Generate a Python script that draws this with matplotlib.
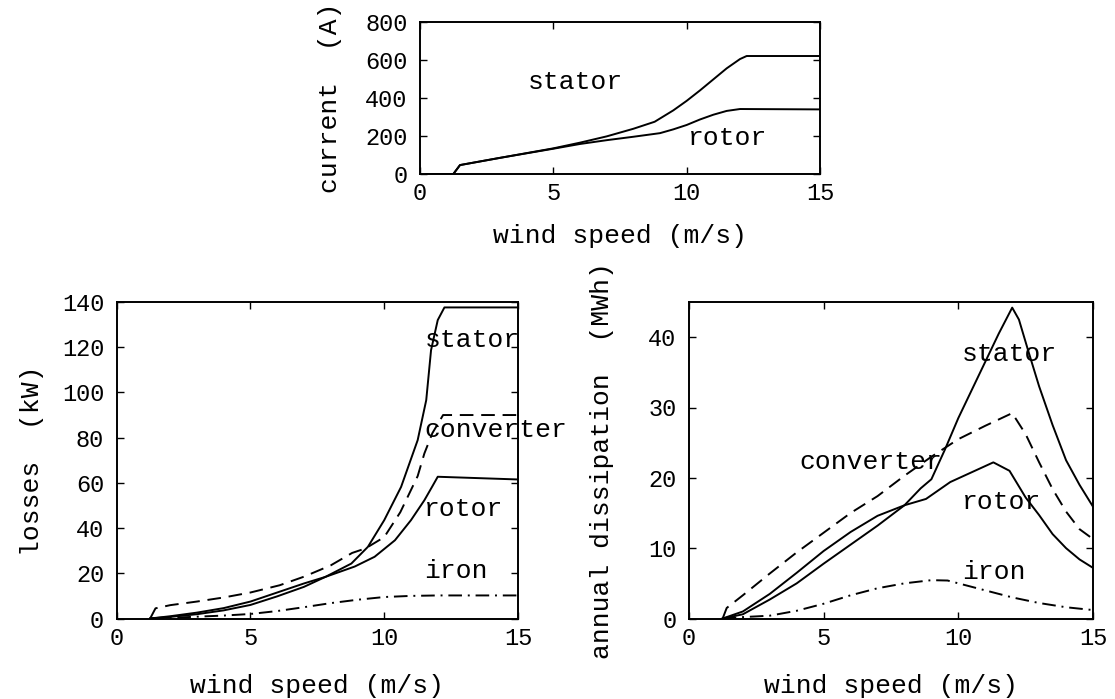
import matplotlib
matplotlib.use("Agg")
import matplotlib.pyplot as plt

plt.rcParams['font.family'] = ['Liberation Mono', 'DejaVu Sans Mono']

# ---------------- data ----------------
# top: current (A) vs wind speed
cur_stator_x = [0.25, 1.25, 1.5, 3, 5, 6, 7, 8, 8.8, 9.5, 10, 10.5, 11, 11.5, 12.0, 12.25, 15]
cur_stator_y = [0, 0, 47, 85, 135, 165, 198, 238, 275, 335, 385, 440, 498, 556, 605, 621, 621]
cur_rotor_x = [0.25, 1.25, 1.5, 3, 5, 6, 7, 8, 9, 9.5, 10, 10.5, 11, 11.5, 12.0, 15]
cur_rotor_y = [0, 0, 47, 85, 133, 158, 178, 196, 215, 235, 258, 287, 312, 332, 342, 340]

# bottom-left: losses (kW)
loss_stator_x = [1.25, 2, 3, 4, 5, 6, 7, 7.8, 8.77, 9.39, 10.0, 10.63, 11.25, 11.57, 11.75, 12.0, 12.25, 15]
loss_stator_y = [0, 0.7, 1.9, 3.6, 6.0, 9.8, 14.0, 18.4, 24.3, 31.7, 43.5, 58.2, 78.9, 96.6, 118.7, 132, 137.6, 137.6]
loss_rotor_x = [1.25, 2, 3, 4, 5, 6, 7, 7.8, 8.9, 9.64, 10.4, 11.0, 11.5, 11.8, 12.0, 15]
loss_rotor_y = [0, 1.0, 2.6, 4.6, 7.5, 11.5, 15.5, 18.4, 23.0, 27.3, 34.6, 43.5, 52.3, 58.5, 62.7, 61.5]
loss_conv_x = [1.25, 1.45, 2, 3, 4, 5, 6.09, 7, 8, 8.8, 9.3, 10, 10.6, 11.25, 11.5, 11.8, 12.2, 15]
loss_conv_y = [0, 4.5, 5.9, 7.5, 9.3, 11.5, 14.7, 18.5, 23.5, 29, 31, 36, 47, 63, 73, 82, 90, 90]
loss_iron_x = [1.25, 2, 3, 4, 5, 6, 7, 8, 9, 10, 11, 12, 15]
loss_iron_y = [0, 0.3, 0.8, 1.3, 2.0, 3.3, 5.0, 6.8, 8.3, 9.5, 10.0, 10.2, 10.2]

# bottom-right: annual dissipation (MWh)
dis_stator_x = [1.25, 2, 3, 4, 5, 6, 7, 8, 8.6, 9, 9.5, 10, 10.5, 11, 11.5, 12.0, 12.25, 12.6, 13, 13.5, 14, 14.5, 15]
dis_stator_y = [0, 0.6, 2.7, 5.0, 7.8, 10.5, 13.2, 16.1, 18.5, 19.8, 24, 28.5, 32.5, 36.5, 40.5, 44.2, 42.5, 38, 33, 27.5, 22.5, 19, 15.9]
dis_rotor_x = [1.25, 2, 3, 4, 5, 6, 7, 8, 8.8, 9.7, 10.5, 11.3, 11.9, 12.5, 13, 13.5, 14, 14.5, 15]
dis_rotor_y = [0, 1.0, 3.5, 6.5, 9.6, 12.3, 14.6, 16.1, 17.0, 19.4, 20.8, 22.2, 21.0, 17.2, 14.7, 12.0, 10.0, 8.4, 7.2]
dis_conv_x = [1.25, 1.4, 2, 3, 4, 5, 6, 7, 8, 9, 10, 11, 12, 12.5, 13, 13.5, 14, 14.5, 15]
dis_conv_y = [0, 1.5, 3.3, 6.4, 9.4, 12.2, 15.0, 17.4, 20.3, 23.0, 25.5, 27.4, 29.2, 26.2, 22.2, 18.4, 15.2, 12.7, 11.3]
dis_iron_x = [1.25, 2, 3, 4, 5, 6, 7, 8, 9, 9.6, 10, 11, 12, 13, 14, 15]
dis_iron_y = [0, 0.2, 0.4, 1.1, 2.1, 3.3, 4.3, 5.0, 5.45, 5.4, 5.0, 4.0, 3.0, 2.2, 1.6, 1.2]

x_ticks = [0, 5, 10, 15]
top_yticks = [0, 200, 400, 600, 800]
bl_yticks = [0, 20, 40, 60, 80, 100, 120, 140]
br_yticks = [0, 10, 20, 30, 40]

# ---------------- styles ----------------
LW = 1.4
DASH = (0, (7, 4))
DASHDOT = (0, (7, 3, 1, 3))
TICK_FS = 17
LAB_FS = 19

W, H = 1115, 699
fig = plt.figure(figsize=(W / 100, H / 100), dpi=100)


def px_axes(left, top, right, bottom):
    return fig.add_axes([left / W, 1 - bottom / H, (right - left) / W, (bottom - top) / H])


def style(ax):
    ax.tick_params(direction='in', top=True, right=True, length=5, width=1,
                   labelsize=TICK_FS)
    ax.tick_params(axis='x', pad=6)
    ax.tick_params(axis='y', pad=9)
    for s in ax.spines.values():
        s.set_linewidth(1.4)
    ax.set_xlim(0, 15)
    ax.set_xticks(x_ticks)


ax_top = px_axes(420, 22, 820, 174)
ax_bl = px_axes(116.7, 302, 518, 618.5)
ax_br = px_axes(689, 302, 1093, 618.5)

for ax in (ax_top, ax_bl, ax_br):
    style(ax)

# top
ax_top.plot(cur_stator_x, cur_stator_y, color='black', lw=LW)
ax_top.plot(cur_rotor_x, cur_rotor_y, color='black', lw=LW)
ax_top.set_ylim(0, 800)
ax_top.set_yticks(top_yticks)
ax_top.text(4.05, 486, 'stator', fontsize=LAB_FS, va='center', ha='left')
ax_top.text(10.05, 192, 'rotor', fontsize=LAB_FS, va='center', ha='left')
ax_top.set_xlabel('wind speed (m/s)', fontsize=LAB_FS)
ax_top.set_ylabel('current  (A)', fontsize=LAB_FS)
ax_top.xaxis.set_label_coords(0.5, (174 - 236) / 152)
ax_top.xaxis.label.set_va('center')
ax_top.yaxis.set_label_coords((330 - 420) / 400, 0.5)
ax_top.yaxis.label.set_va('center')

# bottom-left
ax_bl.plot(loss_stator_x, loss_stator_y, color='black', lw=LW)
ax_bl.plot(loss_rotor_x, loss_rotor_y, color='black', lw=LW)
ax_bl.plot(loss_conv_x, loss_conv_y, color='black', lw=LW, linestyle=DASH)
ax_bl.plot(loss_iron_x, loss_iron_y, color='black', lw=LW, linestyle=DASHDOT)
ax_bl.set_ylim(0, 140)
ax_bl.set_yticks(bl_yticks)
ax_bl.text(11.5, 123, 'stator', fontsize=LAB_FS, va='center', ha='left')
ax_bl.text(11.5, 83.5, 'converter', fontsize=LAB_FS, va='center', ha='left')
ax_bl.text(11.5, 48.5, 'rotor', fontsize=LAB_FS, va='center', ha='left')
ax_bl.text(11.5, 21, 'iron', fontsize=LAB_FS, va='center', ha='left')
ax_bl.set_xlabel('wind speed (m/s)', fontsize=LAB_FS)
ax_bl.set_ylabel('losses  (kW)', fontsize=LAB_FS)
ax_bl.xaxis.set_label_coords(0.5, (618.5 - 686) / 316.5)
ax_bl.xaxis.label.set_va('center')
ax_bl.yaxis.set_label_coords((32 - 116.7) / 401.3, 0.5)
ax_bl.yaxis.label.set_va('center')

# bottom-right
ax_br.plot(dis_stator_x, dis_stator_y, color='black', lw=LW)
ax_br.plot(dis_rotor_x, dis_rotor_y, color='black', lw=LW)
ax_br.plot(dis_conv_x, dis_conv_y, color='black', lw=LW, linestyle=DASH)
ax_br.plot(dis_iron_x, dis_iron_y, color='black', lw=LW, linestyle=DASHDOT)
ax_br.set_ylim(0, 45)
ax_br.set_yticks(br_yticks)
ax_br.text(10.13, 37.6, 'stator', fontsize=LAB_FS, va='center', ha='left')
ax_br.text(4.1, 22.3, 'converter', fontsize=LAB_FS, va='center', ha='left')
ax_br.text(10.13, 16.6, 'rotor', fontsize=LAB_FS, va='center', ha='left')
ax_br.text(10.13, 6.6, 'iron', fontsize=LAB_FS, va='center', ha='left')
ax_br.set_xlabel('wind speed (m/s)', fontsize=LAB_FS)
ax_br.set_ylabel('annual dissipation  (MWh)', fontsize=LAB_FS)
ax_br.xaxis.set_label_coords(0.5, (618.5 - 686) / 316.5)
ax_br.xaxis.label.set_va('center')
ax_br.yaxis.set_label_coords((602 - 689) / 404, 0.5)
ax_br.yaxis.label.set_va('center')

fig.savefig('out.png', dpi=100)
